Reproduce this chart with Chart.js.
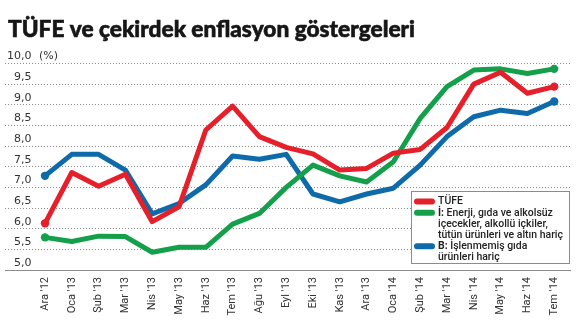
<!DOCTYPE html>
<html>
<head>
<meta charset="utf-8">
<script src="https://cdn.jsdelivr.net/npm/chart.js@4.4.1/dist/chart.umd.min.js"></script>
<style>
html,body{margin:0;padding:0;background:#fff;}
#wrap{width:580px;height:336px;position:relative;overflow:hidden;}
</style>
</head>
<body>
<div id="wrap"><canvas id="c" width="580" height="336"></canvas></div>
<script>
// ---- data ----
const categories = ["Ara '12","Oca '13","Şub '13","Mar '13","Nis '13","May '13","Haz '13","Tem '13","Ağu '13","Eyl '13",
                    "Eki '13","Kas '13","Ara '13","Oca '14","Şub '14","Mar '14","Nis '14","May '14","Haz '14","Tem '14"];
const tufe  = [6.13, 7.36, 7.03, 7.32, 6.17, 6.53, 8.39, 8.97, 8.23, 7.97, 7.81, 7.42, 7.46, 7.83, 7.92, 8.45, 9.50, 9.79, 9.28, 9.44];
const coreI = [5.79, 5.69, 5.82, 5.81, 5.43, 5.55, 5.55, 6.11, 6.37, 7.00, 7.54, 7.28, 7.13, 7.62, 8.67, 9.44, 9.84, 9.87, 9.76, 9.87];
const coreB = [7.28, 7.80, 7.80, 7.42, 6.36, 6.61, 7.06, 7.76, 7.68, 7.80, 6.84, 6.65, 6.84, 6.98, 7.54, 8.23, 8.71, 8.87, 8.79, 9.08];
const yTickValues = [5, 5.5, 6, 6.5, 7, 7.5, 8, 8.5, 9, 9.5, 10];
const yTickLabels = ['5,0','5,5','6,0','6,5','7,0','7,5','8,0','8,5','9,0','9,5','10,0'];
const titleText = 'TÜFE ve çekirdek enflasyon göstergeleri';
const unitLabel = '(%)';
const seriesNames = ['TÜFE', 'İ', 'B'];
// legend text lines per series: [boldPrefix, rest]
const legendTUFE = [['', 'TÜFE']];
const legendI = [['İ:', ' Enerji, gıda ve alkolsüz'], ['', 'içecekler, alkollü içkiler,'], ['', 'tütün ürünleri ve altın hariç']];
const legendB = [['B:', ' İşlenmemiş gıda'], ['', 'ürünleri hariç']];

// ---- styles ----
const RED = '#e5202b', GREEN = '#14a04b', BLUE = '#0e6aa9';
const last = categories.length - 1;
const toXY = arr => arr.map((v, i) => ({x: i, y: v}));
const endDot = ctx => (ctx.dataIndex === 0 || ctx.dataIndex === last) ? 4.2 : 0;

function ds(label, arr, color) {
  return {
    label, data: toXY(arr), borderColor: color, backgroundColor: color,
    borderWidth: 5, tension: 0, borderJoinStyle: 'round', borderCapStyle: 'round',
    pointRadius: endDot, pointHoverRadius: 0, pointBorderWidth: 0, pointBackgroundColor: color
  };
}

const decor = {
  id: 'decor',
  afterDraw(chart) {
    const ctx = chart.ctx;
    // title
    ctx.save();
    ctx.font = '900 22px Lato, "Open Sans", sans-serif';
    ctx.fillStyle = '#161616';
    ctx.textBaseline = 'alphabetic';
    const tw = ctx.measureText(titleText).width;
    ctx.translate(8, 36.7);
    ctx.scale(407 / tw, 1);
    ctx.fillText(titleText, 0, 0);
    ctx.lineWidth = 0.6; ctx.strokeStyle = '#161616';
    ctx.strokeText(titleText, 0, 0);
    ctx.restore();

    // unit label
    const ys = chart.scales.y;
    ctx.save();
    ctx.font = '11px "DejaVu Sans", sans-serif';
    ctx.fillStyle = '#333';
    ctx.textBaseline = 'middle';
    ctx.textAlign = 'left';
    ctx.fillText(unitLabel, 39, ys.getPixelForValue(10) - 7);
    ctx.restore();

    // legend
    const bx = 411.5, by = 191.5, bw = 158, bh = 72;
    ctx.save();
    ctx.fillStyle = '#fff';
    ctx.fillRect(bx, by, bw, bh);
    ctx.strokeStyle = '#8c8c8c';
    ctx.lineWidth = 1;
    ctx.strokeRect(bx, by, bw, bh);
    const regular = '500 11.5px Roboto, sans-serif', bold = '700 11.5px Roboto, sans-serif';
    ctx.font = regular;
    const sx = 125 / ctx.measureText('tütün ürünleri ve altın hariç').width;
    const groups = [[legendTUFE, RED], [legendI, GREEN], [legendB, BLUE]];
    let y = 201.5; const step = 11.2; const tx = 438;
    ctx.textBaseline = 'middle';
    for (const [lines, color] of groups) {
      ctx.strokeStyle = color; ctx.lineWidth = 6; ctx.lineCap = 'round';
      ctx.beginPath(); ctx.moveTo(417, y); ctx.lineTo(432, y); ctx.stroke();
      for (const [b, r] of lines) {
        ctx.save();
        ctx.translate(tx, y); ctx.scale(sx, 1);
        ctx.fillStyle = '#222';
        let x = 0;
        if (b) { ctx.font = bold; ctx.fillText(b, 0, 0); x = ctx.measureText(b).width; }
        ctx.font = regular; ctx.fillText(r, x, 0);
        ctx.restore();
        y += step;
      }
    }
    ctx.restore();
  }
};

new Chart(document.getElementById('c'), {
  type: 'line',
  data: { datasets: [ds(seriesNames[0], tufe, RED), ds(seriesNames[1], coreI, GREEN), ds(seriesNames[2], coreB, BLUE)] },
  options: {
    responsive: false, animation: false, events: [],
    layout: { padding: { left: 5, right: 10, top: 63.5, bottom: 0 } },
    plugins: { legend: { display: false }, tooltip: { enabled: false }, title: { display: false } },
    scales: {
      x: {
        type: 'linear', min: -1.4925, max: 19.59,
        afterBuildTicks: s => { s.ticks = categories.map((_, i) => ({ value: i })); },
        afterFit: s => { s.height = 66; },
        grid: { display: false, drawTicks: false },
        border: { display: true, color: '#8c8c8c', width: 1 },
        ticks: { autoSkip: false, maxRotation: 90, minRotation: 90, padding: 7,
                 font: { family: 'Roboto', size: 11 }, color: '#333',
                 callback: (v, i) => categories[i] }
      },
      y: {
        min: 5, max: 10,
        afterBuildTicks: s => { s.ticks = yTickValues.map(v => ({ value: v })); },
        afterFit: s => { s.width = 0; },
        grid: { color: c => (c.tick && c.tick.value === 5) ? 'rgba(0,0,0,0)' : '#8a8a8a', lineWidth: 1, drawTicks: false },
        border: { display: false, dash: [1, 2] },
        ticks: { mirror: true, crossAlign: 'far', padding: 2, labelOffset: -7,
                 font: { family: 'DejaVu Sans', size: 11 }, color: '#333',
                 callback: (v, i) => yTickLabels[i] }
      }
    }
  },
  plugins: [decor]
});
</script>
</body>
</html>
